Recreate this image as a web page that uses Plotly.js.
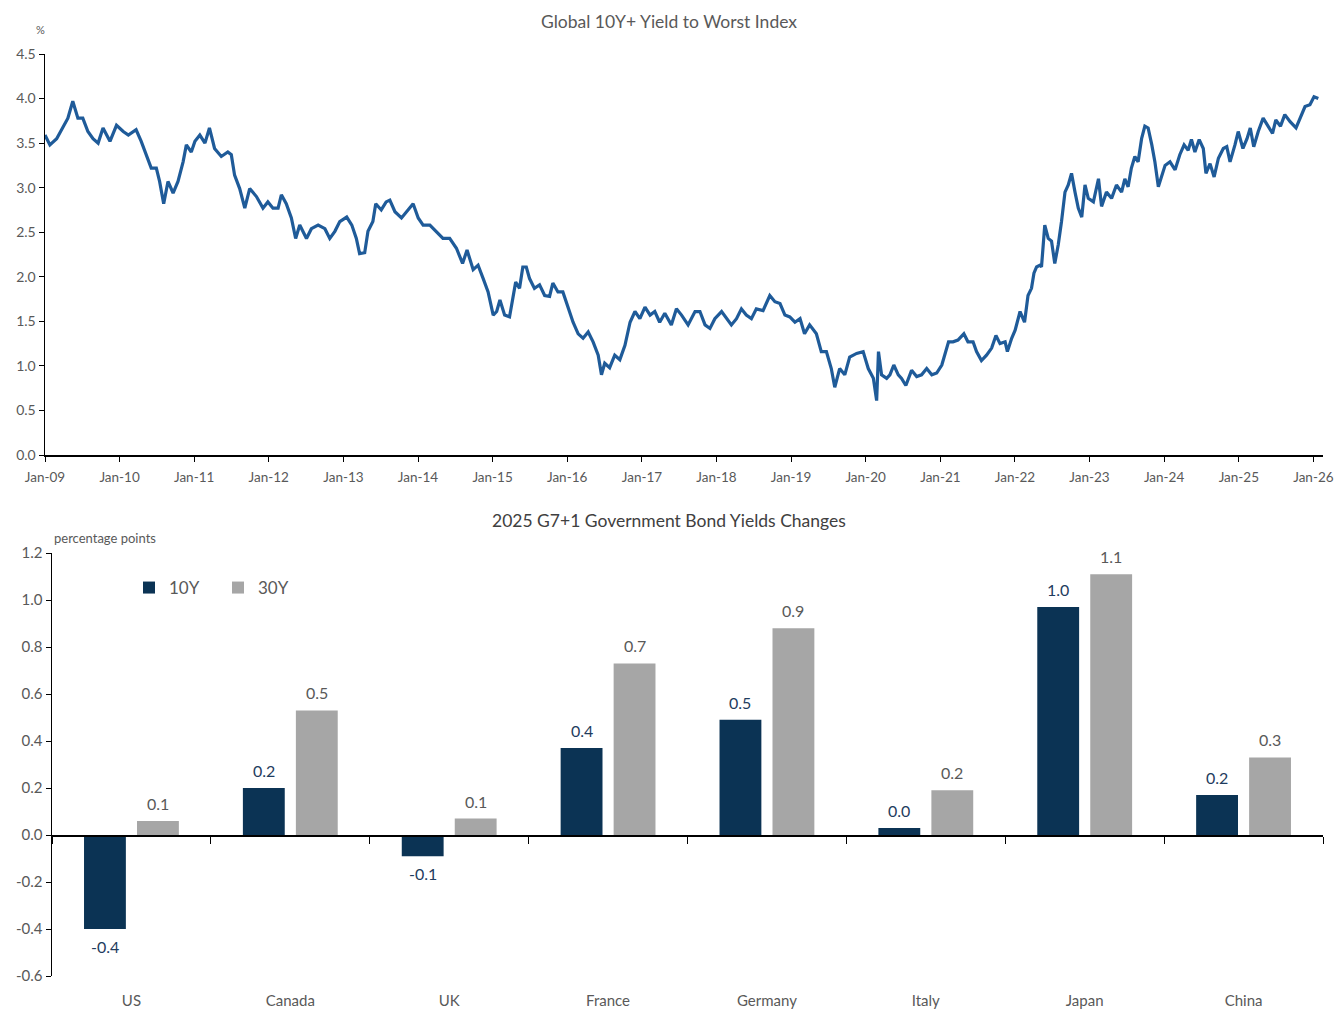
<!DOCTYPE html>
<html>
<head>
<meta charset="utf-8">
<script src="https://cdn.plot.ly/plotly-3.0.1.min.js"></script>
<style>html,body{margin:0;padding:0;background:#fff;}#chart{width:1338px;height:1010px;}</style>
</head>
<body>
<div id="chart"></div>
<script>
// ---- Top chart: Global 10Y+ Yield to Worst Index (%) ----
const dates = ["2009-01-01","2009-01-25","2009-02-27","2009-03-29","2009-04-23","2009-05-17","2009-06-11","2009-07-05","2009-07-30","2009-08-24","2009-09-18","2009-10-12","2009-11-15","2009-12-17",
"2010-01-19","2010-02-13","2010-03-23","2010-04-17","2010-05-11","2010-06-05","2010-06-30","2010-07-16","2010-08-05","2010-08-26","2010-09-20","2010-10-14","2010-11-08","2010-11-24","2010-12-18",
"2011-01-05","2011-01-29","2011-02-23","2011-03-17","2011-04-11","2011-05-14","2011-06-15","2011-07-02","2011-07-18","2011-08-12","2011-09-06","2011-09-30","2011-11-02","2011-12-04","2011-12-28",
"2012-01-22","2012-02-16","2012-03-03","2012-03-27","2012-04-21","2012-05-12","2012-06-01","2012-07-04","2012-07-28","2012-08-30","2012-10-02","2012-10-26","2012-11-20","2012-12-14",
"2013-01-17","2013-02-11","2013-03-05","2013-03-21","2013-04-15","2013-05-01","2013-05-25","2013-06-08","2013-07-05","2013-07-29","2013-08-16","2013-09-10","2013-10-12","2013-11-14","2013-12-08",
"2014-01-02","2014-01-26","2014-02-28","2014-04-01","2014-05-03","2014-06-05","2014-07-08","2014-08-07","2014-08-29","2014-09-28","2014-10-22","2014-11-16","2014-12-10",
"2015-01-04","2015-01-21","2015-02-06","2015-03-01","2015-03-25","2015-04-10","2015-04-24","2015-05-13","2015-05-29","2015-06-15","2015-07-01","2015-07-25","2015-08-19","2015-09-13","2015-10-07","2015-10-23","2015-11-17","2015-12-11",
"2016-01-06","2016-01-30","2016-02-24","2016-03-19","2016-04-13","2016-05-07","2016-06-01","2016-06-17","2016-07-03","2016-07-27","2016-08-21","2016-09-15","2016-10-10","2016-11-04","2016-11-28","2016-12-22",
"2017-01-16","2017-02-10","2017-03-05","2017-03-29","2017-04-23","2017-05-25","2017-06-19","2017-07-14","2017-08-15","2017-09-18","2017-10-12","2017-11-06","2017-11-30","2017-12-24",
"2018-01-26","2018-02-20","2018-03-15","2018-04-09","2018-05-03","2018-05-27","2018-06-21","2018-07-15","2018-08-17","2018-09-19","2018-10-14","2018-11-08","2018-12-02","2018-12-26",
"2019-01-20","2019-02-14","2019-03-08","2019-04-02","2019-05-05","2019-05-29","2019-06-23","2019-07-17","2019-08-03","2019-08-27","2019-09-21","2019-10-15","2019-11-18","2019-12-20",
"2020-01-14","2020-02-08","2020-02-24","2020-03-04","2020-03-19","2020-04-13","2020-04-29","2020-05-18","2020-06-09","2020-06-25","2020-07-16","2020-08-13","2020-09-07","2020-10-01","2020-10-26","2020-11-20","2020-12-14",
"2021-01-08","2021-01-24","2021-02-10","2021-03-04","2021-03-28","2021-04-26","2021-05-16","2021-06-10","2021-06-27","2021-07-21","2021-08-15","2021-09-09","2021-09-30","2021-10-20","2021-11-14","2021-11-25","2021-12-16",
"2022-01-02","2022-01-26","2022-02-17","2022-03-06","2022-03-23","2022-04-04","2022-04-17","2022-05-03","2022-05-11","2022-05-27","2022-06-13","2022-06-29","2022-07-15","2022-08-01","2022-08-17","2022-09-03","2022-09-19","2022-10-05","2022-10-22","2022-11-07","2022-11-24","2022-12-10","2022-12-26",
"2023-01-20","2023-02-14","2023-03-01","2023-03-25","2023-04-19","2023-05-13","2023-06-07","2023-06-23","2023-07-09","2023-07-25","2023-08-11","2023-08-27","2023-09-13","2023-09-29","2023-10-15","2023-11-02","2023-11-17","2023-12-04","2023-12-20",
"2024-01-06","2024-01-30","2024-02-24","2024-03-18","2024-04-08","2024-04-28","2024-05-14","2024-05-31","2024-06-21","2024-07-11","2024-07-24","2024-08-13","2024-09-02","2024-09-23","2024-10-17","2024-11-03","2024-11-19","2024-12-13","2024-12-29",
"2025-01-21","2025-02-10","2025-02-26","2025-03-15","2025-04-06","2025-04-30","2025-05-24","2025-06-15","2025-07-01","2025-07-24","2025-08-14","2025-09-09","2025-10-08","2025-10-27","2025-11-21","2025-12-15",
"2026-01-04","2026-01-25"];
const yields = [3.59,3.48,3.55,3.67,3.78,3.97,3.78,3.78,3.63,3.55,3.50,3.67,3.52,3.70,
3.63,3.59,3.65,3.52,3.37,3.22,3.22,3.07,2.82,3.07,2.94,3.07,3.29,3.48,3.40,
3.52,3.59,3.50,3.67,3.44,3.35,3.40,3.37,3.14,2.99,2.77,2.99,2.90,2.77,2.84,
2.77,2.77,2.92,2.82,2.66,2.43,2.58,2.43,2.54,2.58,2.54,2.43,2.51,2.62,
2.67,2.58,2.43,2.26,2.27,2.51,2.62,2.82,2.75,2.84,2.86,2.73,2.66,2.75,2.82,
2.66,2.58,2.58,2.51,2.43,2.43,2.32,2.15,2.30,2.08,2.13,1.98,1.83,
1.57,1.61,1.74,1.57,1.55,1.76,1.94,1.87,2.11,2.11,1.98,1.87,1.91,1.79,1.78,1.93,1.83,1.83,
1.64,1.49,1.36,1.31,1.38,1.27,1.12,0.90,1.03,0.98,1.12,1.07,1.23,1.49,1.61,1.53,
1.66,1.57,1.61,1.49,1.59,1.46,1.64,1.57,1.46,1.61,1.61,1.46,1.42,1.53,
1.61,1.53,1.46,1.53,1.64,1.57,1.53,1.64,1.62,1.79,1.72,1.70,1.57,1.55,
1.49,1.53,1.36,1.46,1.36,1.16,1.16,0.97,0.76,0.97,0.90,1.10,1.14,1.16,
0.97,0.86,0.61,1.16,0.90,0.86,0.90,1.01,0.90,0.86,0.78,0.95,0.88,0.90,0.97,0.90,0.92,
1.01,1.14,1.27,1.27,1.29,1.36,1.27,1.27,1.16,1.06,1.12,1.20,1.34,1.25,1.27,1.16,1.31,
1.40,1.61,1.49,1.79,1.87,2.04,2.11,2.13,2.11,2.58,2.43,2.40,2.15,2.36,2.62,2.95,3.03,3.16,2.95,2.77,2.67,3.03,2.88,
2.84,3.10,2.79,2.95,2.88,3.03,2.95,3.10,3.01,3.22,3.35,3.29,3.55,3.69,3.67,3.48,3.29,3.01,3.14,
3.25,3.29,3.20,3.37,3.48,3.42,3.54,3.40,3.54,3.44,3.16,3.27,3.12,3.33,3.44,3.46,3.29,3.48,3.63,
3.44,3.55,3.67,3.46,3.63,3.78,3.69,3.61,3.76,3.69,3.82,3.74,3.67,3.78,3.91,3.93,
4.02,4.00];

// ---- Bottom chart: 2025 G7+1 Government Bond Yields Changes (pp) ----
const countries = ["US","Canada","UK","France","Germany","Italy","Japan","China"];
const chg10Y = [-0.40,0.20,-0.09,0.37,0.49,0.03,0.97,0.17];
const chg30Y = [0.06,0.53,0.07,0.73,0.88,0.19,1.11,0.33];
const barTicks = [-0.6,-0.4,-0.2,0.0,0.2,0.4,0.6,0.8,1.0,1.2];
const lineTicks = [0,0.5,1,1.5,2,2.5,3,3.5,4,4.5];

const FONT = "Lato, 'Open Sans', sans-serif";
const GREY = "#595959";
const NAVY = "#0B3354";
const LGREY = "#A6A6A6";

const H = 1010;
const py = p => (H - p) / H; // pixel row -> paper fraction
const W = 1278;
const barDomStart = 7 / W;
const catW = (W - 7) / countries.length;
const barOffset = catW * (1 - 0.333) / 4;

const traces = [
  {type:'scatter', mode:'lines', x:dates, y:yields, xaxis:'x', yaxis:'y',
   line:{color:'#1F5B99', width:3.2}, showlegend:false, hoverinfo:'x+y'},
  {type:'bar', name:'10Y', x:countries, y:chg10Y, xaxis:'x2', yaxis:'y2',
   marker:{color:NAVY}},
  {type:'bar', name:'30Y', x:countries, y:chg30Y, xaxis:'x2', yaxis:'y2',
   marker:{color:LGREY}},
  {type:'scatter', mode:'none', x:countries, y:chg10Y, xaxis:'x3', yaxis:'y2',
   showlegend:false, hoverinfo:'skip'}
];

function labelAnns(vals, shift, color) {
  return vals.map((v, i) => ({
    text: v.toFixed(1), xref:'x2', yref:'y2', x: countries[i], y: v,
    xshift: shift, yshift: v >= 0 ? 6 : -6, yanchor: v >= 0 ? 'bottom' : 'top',
    xanchor:'center', showarrow:false, font:{size:16, color:color}
  }));
}

const layout = {
  width:1338, height:1010,
  margin:{l:45, r:15, t:0, b:0},
  paper_bgcolor:'#fff', plot_bgcolor:'#fff',
  font:{family:FONT, color:GREY, size:14},
  showlegend:true,
  title:{text:'Global 10Y+ Yield to Worst Index', x:0.5, xref:'container', xanchor:'center',
         y:py(22), yanchor:'middle', font:{size:17.5, color:GREY, family:FONT}},
  xaxis:{type:'date', domain:[0,1], anchor:'y', range:['2009-01-01','2026-02-17'],
         tick0:'2009-01-01', dtick:'M12', tickformat:'%b-%y', ticks:'outside', ticklen:5,
         tickcolor:'#000', showline:true, linecolor:'#000', linewidth:1.5, showgrid:false,
         zeroline:false, ticklabelstandoff:4, tickfont:{size:13.5, color:GREY}},
  yaxis:{domain:[py(455), py(54)], anchor:'x', range:[0,4.5], tickvals:lineTicks,
         ticktext:lineTicks.map(v=>v.toFixed(1)), ticks:'outside', ticklen:5, tickcolor:'#000',
         showline:true, linecolor:'#000', linewidth:1.5, showgrid:false, zeroline:false,
         tickfont:{size:14, color:GREY}},
  xaxis2:{type:'category', domain:[barDomStart,1], anchor:'y2', showline:false, ticks:'',
          showgrid:false, zeroline:false, ticklabelstandoff:14, tickfont:{size:15, color:GREY}},
  xaxis3:{type:'category', overlaying:'x2', matches:'x2', anchor:'free',
          position:py(835), showline:true, linecolor:'#000', linewidth:1.5, ticks:'outside',
          tickson:'boundaries', ticklen:7, tickcolor:'#000', showticklabels:false,
          showgrid:false, zeroline:false},
  yaxis2:{domain:[py(976), py(553)], anchor:'x2', range:[-0.6,1.2], tickvals:barTicks,
          ticktext:barTicks.map(v=>v.toFixed(1)), ticks:'outside', ticklen:5, tickcolor:'#000',
          showline:true, linecolor:'#000', linewidth:1.5, showgrid:false, zeroline:false,
          tickfont:{size:15, color:GREY}},
  barmode:'group', bargap:0.333, bargroupgap:0.21,
  legend:{orientation:'h', x:(129-45)/W, xanchor:'left', y:py(570), yanchor:'top',
          font:{size:17, color:GREY}, bgcolor:'rgba(0,0,0,0)', entrywidth:44, entrywidthmode:'pixels',
          tracegroupgap:0},
  annotations:[
    {text:'%', xref:'paper', yref:'paper', x:(40-45)/W, y:py(29), xanchor:'center', yanchor:'middle',
     showarrow:false, font:{size:11, color:GREY}},
    {text:'2025 G7+1 Government Bond Yields Changes', xref:'paper', yref:'paper',
     x:(669-45)/W, y:py(520), xanchor:'center', yanchor:'middle', showarrow:false,
     font:{size:17.5, color:'#404040'}},
    {text:'percentage points', xref:'paper', yref:'paper', x:(52-45)/W, y:py(538), xanchor:'left',
     yanchor:'middle', showarrow:false, font:{size:13, color:GREY}}
  ].concat(labelAnns(chg10Y, -barOffset, '#1F3C5E'), labelAnns(chg30Y, barOffset, GREY))
};

Plotly.newPlot('chart', traces, layout, {displayModeBar:false, staticPlot:true});
</script>
</body>
</html>
